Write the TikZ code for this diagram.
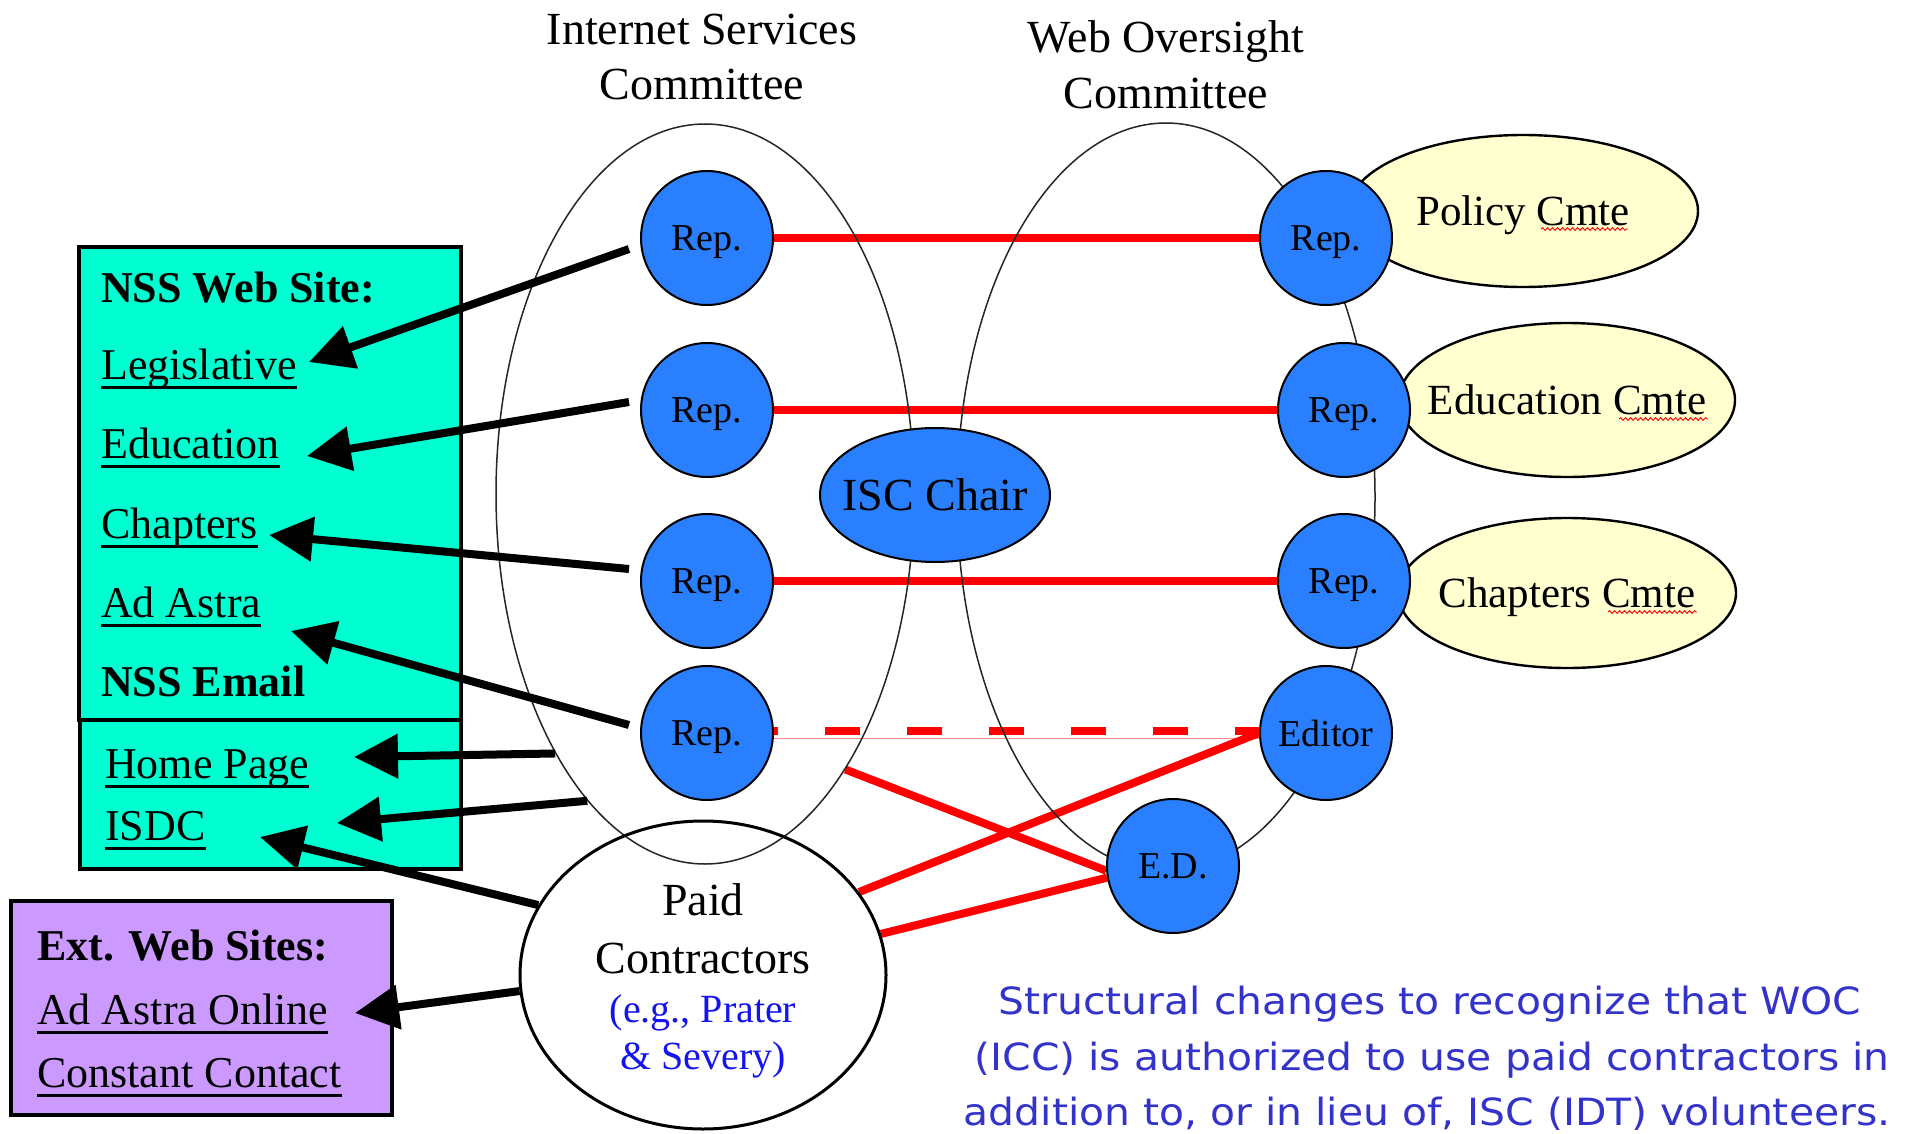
\documentclass[tikz,border=0pt]{standalone}
\usepackage{fontspec}
\setmainfont{Liberation Serif}
\newfontfamily\capfont[FakeStretch=1.09]{DejaVu Sans}
\usetikzlibrary{arrows.meta,shapes.geometric,decorations.pathmorphing}
\definecolor{repblue}{RGB}{42,127,255}
\definecolor{cyanbox}{RGB}{0,255,208}
\definecolor{violetbox}{RGB}{204,153,255}
\definecolor{cream}{RGB}{255,255,208}
\definecolor{captxt}{RGB}{51,51,204}
\definecolor{egblue}{RGB}{20,20,240}
\definecolor{redl}{RGB}{255,0,0}
\pgfdeclarelayer{bg}
\pgfdeclarelayer{lines}
\pgfsetlayers{bg,lines,main}
\begin{document}
\begin{tikzpicture}[x=1pt,y=-1pt,
  rep/.style={ellipse, draw=black, line width=2pt, fill=repblue, minimum width=132pt, minimum height=134pt, inner sep=0pt, text depth=0pt, font=\fontsize{38}{38}\selectfont},
  cmte/.style={ellipse, draw=black, line width=2.4pt, fill=cream, inner xsep=-40pt, inner ysep=0pt, text depth=0pt, font=\fontsize{43}{43}\selectfont},
  bigell/.style={ellipse, draw=black!85, line width=1.5pt, inner sep=0pt, minimum width=418pt},
  box/.style={rectangle, draw=black, inner sep=0pt},
  redline/.style={draw=redl, line width=8pt},
  arr/.style={draw=black, line width=8pt, -{Triangle[length=44pt,width=43pt]}},
  lbl/.style={inner sep=0pt, anchor=base west, font=\fontsize{44}{44}\selectfont},
  blbl/.style={inner sep=0pt, anchor=base west, font=\bfseries\fontsize{44}{44}\selectfont},
  ttl/.style={inner sep=0pt, anchor=base, font=\fontsize{46}{46}\selectfont},
  ul/.style={draw=black, line width=3pt},
  squig/.style={draw=redl, line width=0.9pt, decorate, decoration={snake, amplitude=1.3pt, segment length=5pt}},
  captext/.style={inner sep=0pt, anchor=base, text=captxt, font=\capfont\fontsize{37.5}{37.5}\selectfont},
]
\useasboundingbox (0,0) rectangle (1911,1134);
\begin{pgfonlayer}{bg}
\fill[white] (0,0) rectangle (1911,1134);
\end{pgfonlayer}

% committee ellipses
\node[bigell, minimum height=740pt] (isc) at (705,494) {};
\node[bigell, minimum height=748pt] (woc) at (1166,497) {};

% titles
\node[ttl] (it1) at (702,45) {Internet Services};
\node[ttl] (it2) at (702,100) {Committee};
\node[ttl] (wt1) at (1166,53) {Web Oversight};
\node[ttl] (wt2) at (1166,109) {Committee};

% sub-committees
\node[cmte, minimum width=350pt, minimum height=152pt] (pol) at (1523,211) {Policy Cmte};
\node[cmte, minimum width=336pt, minimum height=154pt] (educ) at (1567,400) {Education Cmte};
\node[cmte, minimum width=338pt, minimum height=150pt] (chc) at (1567,593) {Chapters Cmte};
\draw[squig] (1541,229) -- (1628,229);
\draw[squig] (1619,419) -- (1708,419);
\draw[squig] (1608,612) -- (1697,612);

% ISC reps
\node[rep] (r1) at (707,238) {Rep.};
\node[rep] (r2) at (707,410) {Rep.};
\node[rep] (r3) at (707,581) {Rep.};
\node[rep] (r4) at (707,733) {Rep.};
% WOC reps
\node[rep] (w1) at (1326,238) {Rep.};
\node[rep] (w2) at (1344,410) {Rep.};
\node[rep] (w3) at (1344,581) {Rep.};
\node[rep, inner xsep=-5pt] (edt) at (1326,733) {Editor};
\node[rep] (edn) at (1173,866) {E.D.};
\node[rep, minimum width=230pt, inner xsep=-15pt, font=\fontsize{46}{46}\selectfont] (chair) at (935,495) {ISC Chair};

% paid contractors
\node[ellipse, draw=black, line width=3pt, minimum width=366pt, minimum height=308pt, inner sep=0pt] (paid) at (703,975) {};
\node[ttl] (p1) at (703,915) {Paid};
\node[ttl] (p2) at (703,973) {Contractors};
\node[ttl, text=egblue, font=\fontsize{40}{40}\selectfont] (p3) at (703,1022) {(e.g., Prater};
\node[ttl, text=egblue, font=\fontsize{40}{40}\selectfont] (p4) at (703,1069) {\& Severy)};

% boxes
\node[box, line width=3.5pt, fill=cyanbox, minimum width=382pt, minimum height=473pt] (nss) at (270,483.5) {};
\node[box, line width=4pt, fill=cyanbox, minimum width=381pt, minimum height=149pt] (hp) at (270.5,794.5) {};
\node[box, line width=4pt, fill=violetbox, minimum width=381pt, minimum height=214pt] (ext) at (201.5,1008) {};

\node[blbl] (nsst) at (101,302) {NSS Web Site:};
\node[lbl] (leg) at (101,379) {Legislative};
\node[lbl] (edu) at (101,458) {Education};
\node[lbl] (chap) at (101,538) {Chapters};
\node[lbl] (ast) at (101,617) {Ad Astra};
\node[blbl] (eml) at (101,696) {NSS Email};
\node[lbl] (home) at (105,778) {Home Page};
\node[lbl] (isdc) at (105,840) {ISDC};
\node[blbl] (extt) at (37,960) {Ext. Web Sites:};
\node[lbl] (aao) at (37,1024) {Ad Astra Online};
\node[lbl] (cc) at (37,1087) {Constant Contact};
\foreach \n in {leg,edu,chap,ast,home,isdc,aao,cc}
  \draw[ul] ([yshift=-8pt]\n.base west) -- ([yshift=-8pt]\n.base east);

% caption
\node[captext] (c1) at (1430,1014) {Structural changes to recognize that WOC};
\node[captext] (c2) at (1432,1070) {(ICC) is authorized to use paid contractors in};
\node[captext] (c3) at (1427,1125) {addition to, or in lieu of, ISC (IDT) volunteers.};

% red links
\begin{pgfonlayer}{lines}
\draw[redline] (r1) -- (w1);
\draw[redline] (r2) -- (w2);
\draw[redline] (r3) -- (w3);
\draw[draw=redl!45, line width=1pt] ([yshift=-5pt]r4.east) -- ([yshift=-5pt]edt.west);
\draw[redline, dash pattern=on 35pt off 47pt, dash phase=31pt] ([yshift=2pt]r4.east) -- ([yshift=2pt]edt.west);
\draw[redline] (isc.-63.5) -- (edn.184);
\draw[redline] (paid.28.7) -- (edt.west);
\draw[redline] (paid.13) -- (edn.190);
\end{pgfonlayer}

% arrow tips
\coordinate (t1) at (309,362);
\coordinate (t2) at (307,456);
\coordinate (t3) at (269,535);
\coordinate (t4) at (291,631);
\coordinate (t5) at (354,757);
\coordinate (t6) at (337,823);
\coordinate (t7) at (260,837);
\coordinate (t8) at (355,1013);

\draw[arr] ([xshift=-11pt,yshift=-11pt]r1.west) -- (t1);
\draw[arr] ([xshift=-11pt,yshift=8pt]r2.west) -- (t2);
\draw[arr] ([xshift=-11pt,yshift=12pt]r3.west) -- (t3);
\draw[arr] ([xshift=-11pt,yshift=8pt]r4.west) -- (t4);
\draw[arr] (isc.-120.3) -- (t5);
\draw[arr] (isc.-111) -- (t6);
\draw[arr] (paid.157.5) -- (t7);
\draw[arr] (paid.185) -- (t8);
\end{tikzpicture}
\end{document}
